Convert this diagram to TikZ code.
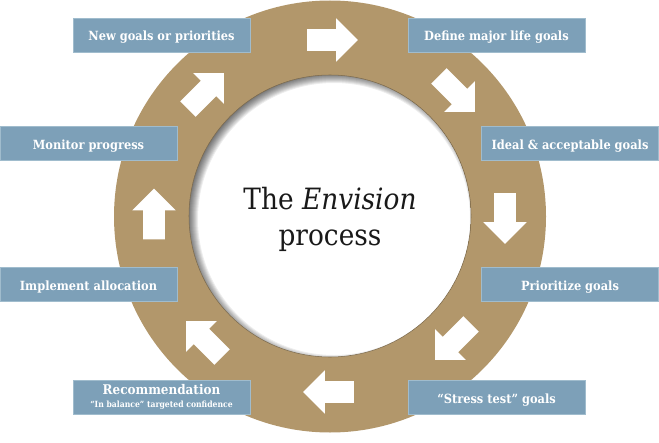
\documentclass[tikz,border=0pt]{standalone}
\usepackage{fontspec}
\setmainfont{DejaVu Serif Condensed}
\usepackage{xcolor}
\usetikzlibrary{shapes,arrows,positioning}

\definecolor{ringtan}{RGB}{178,151,107}
\definecolor{boxblue}{RGB}{125,160,184}
\definecolor{boxedge}{RGB}{160,188,205}

\tikzset{
  goalbox/.style={rectangle, draw=boxedge, line width=0.4pt, fill=boxblue, text=white, font=\bfseries\fontsize{9.5}{11}\selectfont, minimum width=132.5pt, minimum height=25.5pt, inner sep=0pt, text height=10.5pt, text depth=1.5pt},
  flowarrow/.style={single arrow, fill=white, minimum height=38pt, inner xsep=0pt, inner ysep=8pt, single arrow head extend=8pt, single arrow head indent=0pt}
}

\begin{document}
\begin{tikzpicture}[x=0.75pt,y=-0.75pt]
\useasboundingbox (0,0) rectangle (659,442);

\fill[ringtan] (330,216.5) circle[radius=216];
\begin{scope}
\clip (330,216) circle[radius=141];
\fill[white] (330,216) circle[radius=141];
% soft shadow, thicker towards the upper left
\foreach \w in {2,4,...,20}
  \draw[black, opacity=0.07, line width=\w*0.75pt] (334,219) circle[radius=146];
\end{scope}
\draw[ringtan!70!black, line width=0.4pt] (330,216) circle[radius=141];

\node[goalbox] (newgoals) at (161.5,35) {New goals or priorities};
\node[goalbox] (define) at (496.5,35) {Define major life goals};
\node[goalbox] (ideal) at (570,143.5) {Ideal \& acceptable goals};
\node[goalbox] (monitor) at (88.5,143.5) {Monitor progress};
\node[goalbox] (implement) at (88.5,284.5) {Implement allocation};
\node[goalbox] (prioritize) at (570,284.5) {Prioritize goals};
\node[goalbox, text height={}, text depth={}, align=center] (recommend) at (161.5,397) {\fontsize{10}{11}\selectfont Recommendation\\[-1pt]{\fontsize{6.4}{7}\selectfont ``In balance'' targeted confidence}};
\node[goalbox] (stress) at (496.5,397) {``Stress test'' goals};

\node[flowarrow] (arrowtop) at (327,40) {};
\node[flowarrow, rotate=-45] (arrowne) at (453,90) {};
\node[flowarrow, rotate=-90] (arrowright) at (505,213) {};
\node[flowarrow, rotate=-135] (arrowse) at (457,338) {};
\node[flowarrow, rotate=180] (arrowbottom) at (334,392) {};
\node[flowarrow, rotate=135] (arrowsw) at (208,343) {};
\node[flowarrow, rotate=90] (arrowleft) at (154,219.5) {};
\node[flowarrow, rotate=45] (arrownw) at (202,95) {};

\node[text=black!90, font=\fontsize{22}{27}\selectfont, align=center] (title) at (330,219) {The \textit{Envision}\\process};
\end{tikzpicture}
\end{document}
